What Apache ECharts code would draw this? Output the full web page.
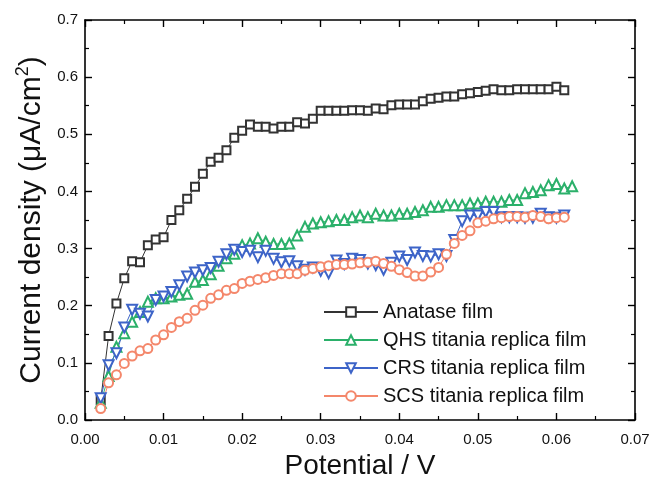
<!DOCTYPE html>
<html>
<head>
<meta charset="utf-8">
<script src="https://cdn.jsdelivr.net/npm/echarts@6/dist/echarts.min.js"></script>
<style>
  html, body { margin: 0; padding: 0; background: #fff; }
  #chart { width: 650px; height: 483px; }
</style>
</head>
<body>
<div id="chart"></div>
<script>
// potential (V) for each measured point
const potential = [0.002, 0.003, 0.004, 0.005, 0.006, 0.007, 0.008, 0.009, 0.010, 0.011,
  0.012, 0.013, 0.014, 0.015, 0.016, 0.017, 0.018, 0.019, 0.020, 0.021,
  0.022, 0.023, 0.024, 0.025, 0.026, 0.027, 0.028, 0.029, 0.030, 0.031,
  0.032, 0.033, 0.034, 0.035, 0.036, 0.037, 0.038, 0.039, 0.040, 0.041,
  0.042, 0.043, 0.044, 0.045, 0.046, 0.047, 0.048, 0.049, 0.050, 0.051,
  0.052, 0.053, 0.054, 0.055, 0.056, 0.057, 0.058, 0.059, 0.060, 0.061, 0.062];

// current density (uA/cm2)
const anatase = [0.035, 0.147, 0.204, 0.248, 0.278, 0.276, 0.306, 0.316, 0.320, 0.350,
  0.367, 0.387, 0.408, 0.431, 0.452, 0.459, 0.472, 0.494, 0.506, 0.517,
  0.513, 0.513, 0.510, 0.513, 0.513, 0.521, 0.519, 0.527, 0.541, 0.541,
  0.541, 0.541, 0.542, 0.542, 0.541, 0.545, 0.544, 0.551, 0.552, 0.552,
  0.552, 0.558, 0.562, 0.564, 0.566, 0.566, 0.570, 0.572, 0.574, 0.576,
  0.579, 0.577, 0.577, 0.579, 0.579, 0.579, 0.579, 0.579, 0.583, 0.577];

const qhs = [0.030, 0.077, 0.128, 0.152, 0.172, 0.189, 0.207, 0.213, 0.213, 0.216,
  0.219, 0.221, 0.242, 0.245, 0.255, 0.270, 0.283, 0.291, 0.306, 0.309,
  0.318, 0.312, 0.308, 0.308, 0.309, 0.323, 0.338, 0.344, 0.346, 0.348,
  0.350, 0.350, 0.355, 0.358, 0.355, 0.361, 0.358, 0.358, 0.361, 0.361,
  0.364, 0.367, 0.373, 0.373, 0.376, 0.376, 0.376, 0.379, 0.379, 0.382,
  0.382, 0.382, 0.385, 0.385, 0.397, 0.399, 0.402, 0.411, 0.413, 0.405, 0.409];

const crs = [0.038, 0.096, 0.117, 0.162, 0.193, 0.186, 0.181, 0.210, 0.216, 0.224,
  0.236, 0.251, 0.258, 0.262, 0.266, 0.277, 0.290, 0.298, 0.294, 0.296,
  0.285, 0.296, 0.282, 0.276, 0.278, 0.269, 0.263, 0.267, 0.261, 0.257,
  0.279, 0.273, 0.282, 0.280, 0.274, 0.271, 0.263, 0.275, 0.286, 0.280,
  0.293, 0.287, 0.286, 0.290, 0.287, 0.315, 0.348, 0.358, 0.358, 0.364,
  0.364, 0.355, 0.355, 0.355, 0.354, 0.354, 0.361, 0.355, 0.354, 0.358];

const scs = [0.020, 0.065, 0.079, 0.099, 0.112, 0.121, 0.125, 0.140, 0.149, 0.162,
  0.172, 0.178, 0.192, 0.201, 0.213, 0.219, 0.227, 0.230, 0.239, 0.243,
  0.246, 0.249, 0.253, 0.256, 0.256, 0.256, 0.262, 0.265, 0.268, 0.270,
  0.272, 0.272, 0.273, 0.275, 0.276, 0.278, 0.274, 0.269, 0.263, 0.258,
  0.252, 0.252, 0.259, 0.267, 0.290, 0.309, 0.323, 0.331, 0.345, 0.348,
  0.352, 0.354, 0.356, 0.356, 0.355, 0.358, 0.356, 0.352, 0.354, 0.355];

const seriesNames = ['Anatase film', 'QHS titania replica film', 'CRS titania replica film', 'SCS titania replica film'];
const seriesColors = ['#333333', '#2bb06a', '#3d64c8', '#f4876b'];

const fontFam = 'Liberation Sans, Arial, sans-serif';

function pairs(ys) {
  return ys.map((y, i) => [potential[i], y]);
}

var chart = echarts.init(document.getElementById('chart'));

function frameAxis(extra) {
  return Object.assign({
    type: 'value',
    splitLine: { show: false },
    axisLine: { show: true, onZero: false, lineStyle: { color: '#000', width: 1.6 } },
    axisTick: { show: true, inside: true, length: 7, lineStyle: { color: '#000', width: 1.4 } },
    minorTick: { show: true, splitNumber: 2, length: 4, lineStyle: { color: '#000', width: 1.2 } },
    minorSplitLine: { show: false }
  }, extra);
}

var option = {
  backgroundColor: '#fff',
  animation: false,
  grid: { left: 85, right: 15, top: 20, bottom: 63, outerBoundsMode: 'none' },
  legend: {
    orient: 'vertical',
    left: 323,
    top: 302,
    padding: 0,
    itemWidth: 54,
    itemHeight: 12,
    itemGap: 8,
    textStyle: { fontFamily: fontFam, fontSize: 20, color: '#111' },
    data: seriesNames
  },
  xAxis: [
    frameAxis({
      position: 'bottom', min: 0, max: 0.07, interval: 0.01,
      axisLabel: { formatter: v => v.toFixed(2), fontFamily: fontFam, fontSize: 15, color: '#111', margin: 12 },
      name: 'Potential / V', nameLocation: 'middle', nameGap: 32,
      nameTextStyle: { fontFamily: fontFam, fontSize: 28, color: '#111' }
    }),
    frameAxis({ position: 'top', min: 0, max: 0.07, interval: 0.01, axisLabel: { show: false } })
  ],
  yAxis: [
    frameAxis({
      position: 'left', min: 0, max: 0.7, interval: 0.1,
      axisLabel: { formatter: v => v.toFixed(1), fontFamily: fontFam, fontSize: 15, color: '#111', margin: 7 },
      name: 'Current density (\u03bcA/cm{sup|2})', nameLocation: 'middle', nameGap: 29,
      nameTextStyle: {
        fontFamily: fontFam, fontSize: 30, color: '#111',
        rich: { sup: { fontFamily: fontFam, fontSize: 18, verticalAlign: 'top', padding: [0, 0, 16, 0] } }
      }
    }),
    frameAxis({ position: 'right', min: 0, max: 0.7, interval: 0.1, axisLabel: { show: false } })
  ],
  series: [
    { name: seriesNames[0], type: 'line', data: pairs(anatase), symbol: 'emptyRect', symbolSize: 8 },
    { name: seriesNames[1], type: 'line', data: pairs(qhs), symbol: 'emptyTriangle', symbolSize: 10 },
    { name: seriesNames[2], type: 'line', data: pairs(crs), symbol: 'emptyTriangle', symbolSize: 10, symbolRotate: 180 },
    { name: seriesNames[3], type: 'line', data: pairs(scs), symbol: 'emptyCircle', symbolSize: 9 }
  ].map((s, i) => Object.assign(s, {
    xAxisIndex: 0, yAxisIndex: 0,
    color: seriesColors[i],
    lineStyle: { width: 1, color: seriesColors[i] },
    itemStyle: { color: seriesColors[i], borderWidth: 1.3 },
    showAllSymbol: true
  }))
};

chart.setOption(option);
</script>
</body>
</html>
